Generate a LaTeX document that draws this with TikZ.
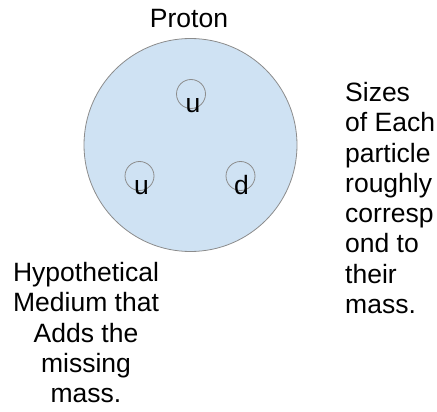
\documentclass[tikz,border=0pt]{standalone}
\usepackage{fontspec}
\setmainfont{Liberation Sans}
\usepackage{xcolor}
\usepackage{tikz}
\definecolor{protonblue}{HTML}{CFE2F3}
\definecolor{rimgray}{HTML}{8C8C8C}

\begin{document}
\begin{tikzpicture}[x=1pt,y=-1pt,every node/.style={font=\fontsize{26.5}{30.3}\selectfont,inner sep=0pt},
  ball/.style={draw=rimgray,circle,fill=protonblue,minimum size=213pt,line width=0.8pt},
  quark/.style={draw=rimgray,circle,minimum size=29pt,line width=0.8pt},
  note/.style={align=center}]
  \useasboundingbox (0,0) rectangle (437,412);
  \node[ball] (proton) at (190.5,145) {};
  \node[quark] (qtop) at (191,94) {};
  \node[quark] (qleft) at (139.5,176) {};
  \node[quark] (qright) at (240.5,176) {};
  \node[anchor=base] (ltop) at (193,113) {u};
  \node[anchor=base] (lleft) at (141.5,194) {u};
  \node[anchor=base] (lright) at (241.5,194) {d};
  \node[anchor=base] (title) at (189,28) {Proton};
  \node[note,anchor=north] (medium) at (86,262) {Hypothetical\\Medium that\\Adds the\\missing\\mass.};
  \node[align=left,anchor=north west] (sizes) at (345,82) {Sizes\\of Each\\particle\\roughly\\corresp\\ond to\\their\\mass.};
\end{tikzpicture}
\end{document}
